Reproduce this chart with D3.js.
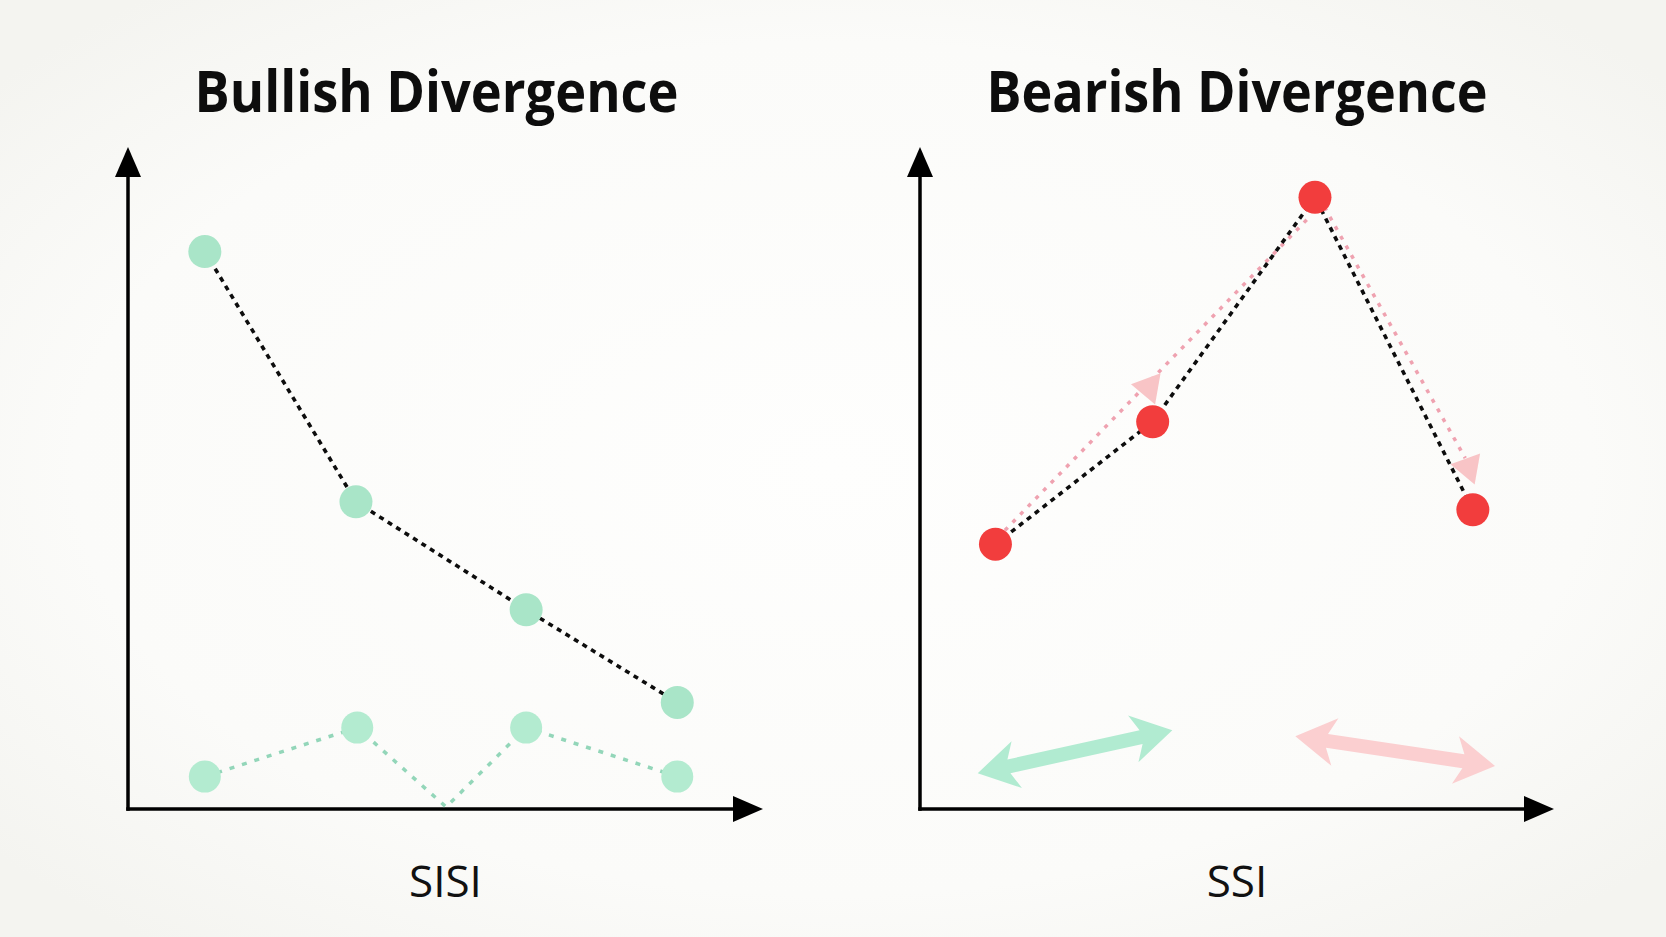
<!DOCTYPE html>
<html>
<head>
<meta charset="utf-8">
<script src="https://cdn.jsdelivr.net/npm/d3@7"></script>
<style>
  html, body { margin: 0; padding: 0; background: #f7f7f4; }
  svg { display: block; }
</style>
</head>
<body>
<svg id="chart" width="1666" height="937"></svg>
<script>
const titles = ["Bullish Divergence", "Bearish Divergence"];
const xLabels = ["SISI", "SSI"];

// bullish panel: price keeps falling, indicator stays up
const bullPriceX = [12.1, 35.9, 62.7, 86.5];
const bullPriceY = [84.2, 46.4, 30.1, 16.1];
const bullIndX = [12.1, 36.1, 50.1, 62.7, 86.5];
const bullIndY = [4.9, 12.3, 0.3, 12.3, 4.9];
const bullIndDot = [true, true, false, true, true];

// bearish panel
const bearPriceX = [11.9, 36.7, 62.3, 87.2];
const bearPriceY = [40.0, 58.5, 92.4, 45.2];
const bearUpX = [13.4, 61.7];
const bearUpY = [42.1, 89.7];
const bearDownX = [63.8, 86.0];
const bearDownY = [90.9, 53.0];
const bearMarkX = [36.1, 86.5];
const bearMarkY = [63.7, 51.6];
const spanX = [[9.1, 39.8], [59.2, 90.7]];
const spanY = [[5.4, 11.9], [11.0, 6.5]];

const width = 1666, height = 937;
const svg = d3.select("#chart");

// soft paper background
const defs = svg.append("defs");
const bg = defs.append("radialGradient").attr("id", "bg").attr("cx", "50%").attr("cy", "50%").attr("r", "65%");
bg.append("stop").attr("offset", "0%").attr("stop-color", "#fefefd");
bg.append("stop").attr("offset", "70%").attr("stop-color", "#fbfbf9");
bg.append("stop").attr("offset", "100%").attr("stop-color", "#f4f4f0");
svg.append("rect").attr("width", width).attr("height", height).attr("fill", "url(#bg)");

const panelX = [[128, 763], [920, 1554]];
const yRange = [809, 147];
const titleShift = [-9, 0];
const titleWidth = [484, 501];

const scales = panelX.map(r => ({
  x: d3.scaleLinear().domain([0, 100]).range(r),
  y: d3.scaleLinear().domain([0, 100]).range(yRange)
}));

function drawAxes(g, x, y, i) {
  const x0 = x(0), y0 = y(0), xt = x(100), yt = y(100);
  const head = 30, half = 13;
  g.append("line").attr("x1", x0).attr("y1", y0 + 1.75).attr("x2", x0).attr("y2", yt + head - 2)
    .attr("stroke", "#000").attr("stroke-width", 3.5);
  g.append("line").attr("x1", x0 - 1.75).attr("y1", y0).attr("x2", xt - head + 2).attr("y2", y0)
    .attr("stroke", "#000").attr("stroke-width", 3.5);
  g.append("path").attr("d", `M${x0},${yt}L${x0 - half},${yt + head}L${x0 + half},${yt + head}Z`).attr("fill", "#000");
  g.append("path").attr("d", `M${xt},${y0}L${xt - head},${y0 - half}L${xt - head},${y0 + half}Z`).attr("fill", "#000");

  const cx = (x0 + xt) / 2;
  g.append("text")
    .attr("x", cx + titleShift[i]).attr("y", 112)
    .attr("text-anchor", "middle")
    .attr("textLength", titleWidth[i])
    .attr("lengthAdjust", "spacingAndGlyphs")
    .style("font-family", "'Open Sans', 'Noto Sans', sans-serif")
    .style("font-weight", 700)
    .style("font-size", "58px")
    .attr("fill", "#0d0d0d")
    .text(titles[i]);

  g.append("text")
    .attr("x", cx).attr("y", 897)
    .attr("text-anchor", "middle")
    .style("font-family", "'Open Sans', 'Noto Sans', sans-serif")
    .style("font-size", "44px")
    .attr("fill", "#111")
    .text(xLabels[i]);
}

function doubleArrow(x1, y1, x2, y2, shaft, headLen, headHalf) {
  const dx = x2 - x1, dy = y2 - y1, L = Math.hypot(dx, dy);
  const ux = dx / L, uy = dy / L, nx = -uy, ny = ux;
  const pt = (a, b) => [x1 + ux * a + nx * b, y1 + uy * a + ny * b];
  const pts = [pt(0, 0), pt(headLen, -headHalf), pt(headLen * 0.8, -shaft / 2),
    pt(L - headLen * 0.8, -shaft / 2), pt(L - headLen, -headHalf), pt(L, 0),
    pt(L - headLen, headHalf), pt(L - headLen * 0.8, shaft / 2),
    pt(headLen * 0.8, shaft / 2), pt(headLen, headHalf)];
  return "M" + pts.map(p => p.join(",")).join("L") + "Z";
}

// ---- left panel ----
{
  const { x, y } = scales[0];
  const g = svg.append("g");
  drawAxes(g, x, y, 0);

  const line = d3.line().x(d => x(d[0])).y(d => y(d[1]));
  const ind = d3.zip(bullIndX, bullIndY);
  const price = d3.zip(bullPriceX, bullPriceY);

  g.append("path").attr("d", line(ind)).attr("fill", "none")
    .attr("stroke", "#93d6b9").attr("stroke-width", 3.5).attr("stroke-dasharray", "5,8");
  g.append("path").attr("d", line(price)).attr("fill", "none")
    .attr("stroke", "#0d0d0d").attr("stroke-width", 3.6).attr("stroke-dasharray", "5,5");

  g.selectAll(".ind-dot").data(ind.filter((d, i) => bullIndDot[i])).join("circle")
    .attr("class", "ind-dot")
    .attr("cx", d => x(d[0])).attr("cy", d => y(d[1])).attr("r", 16)
    .attr("fill", "#b3ebd0");
  g.selectAll(".price-dot").data(price).join("circle")
    .attr("class", "price-dot")
    .attr("cx", d => x(d[0])).attr("cy", d => y(d[1])).attr("r", 16.5)
    .attr("fill", "#a9e5c8");
}

// ---- right panel ----
{
  const { x, y } = scales[1];
  const g = svg.append("g");
  drawAxes(g, x, y, 1);

  const line = d3.line().x(d => x(d[0])).y(d => y(d[1]));
  const price = d3.zip(bearPriceX, bearPriceY);

  [d3.zip(bearUpX, bearUpY), d3.zip(bearDownX, bearDownY)].forEach(seg => {
    g.append("path").attr("d", line(seg)).attr("fill", "none")
      .attr("stroke", "#efa2b0").attr("stroke-width", 3.5).attr("stroke-dasharray", "4,7");
  });

  g.selectAll(".mark").data(d3.zip(bearMarkX, bearMarkY)).join("path")
    .attr("class", "mark")
    .attr("d", d3.symbol(d3.symbolTriangle, 430))
    .attr("transform", d => `translate(${x(d[0])},${y(d[1])}) rotate(-80)`)
    .attr("fill", "#f8c4c6");

  g.append("path").attr("d", line(price)).attr("fill", "none")
    .attr("stroke", "#0d0d0d").attr("stroke-width", 3.6).attr("stroke-dasharray", "5,5");

  g.selectAll(".price-dot").data(price).join("circle")
    .attr("class", "price-dot")
    .attr("cx", d => x(d[0])).attr("cy", d => y(d[1])).attr("r", 16.5)
    .attr("fill", "#f23d3d");

  const spanColors = ["#b1ebd1", "#fbcfd0"];
  spanX.forEach((sx, i) => {
    g.append("path")
      .attr("d", doubleArrow(x(sx[0]), y(spanY[i][0]), x(sx[1]), y(spanY[i][1]), 14, 40, 24))
      .attr("fill", spanColors[i]);
  });
}
</script>
</body>
</html>
